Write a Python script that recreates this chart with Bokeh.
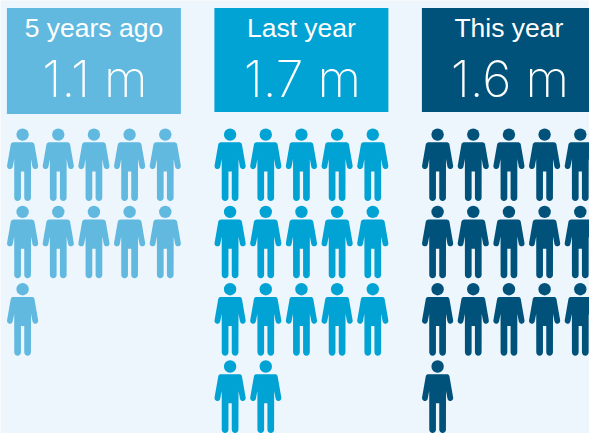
import math
from bokeh.plotting import figure
from bokeh.models import Range1d
from bokeh.core.properties import value
from bokeh.embed import file_html
from bokeh.resources import INLINE

categories = ["5 years ago", "Last year", "This year"]
values_m = [1.1, 1.7, 1.6]
people = [11, 17, 16]
labels = ["1.1 m", "1.7 m", "1.6 m"]
colors = ["#62b9df", "#00a3d3", "#00527a"]
BG = "#edf6fc"

W, H = 589, 433
p = figure(width=W, height=H, output_backend="svg", toolbar_location=None,
           x_range=Range1d(0.6, W + 0.6), y_range=Range1d(H + 0.6, 0.6),
           min_border=0, outline_line_color=None, background_fill_color=BG,
           border_fill_color=BG)
p.axis.visible = False
p.grid.visible = False


def arc(cx, cy, r, a0, a1, n=8):
    return [(cx + r * math.cos(math.radians(a0 + (a1 - a0) * j / n)),
             cy + r * math.sin(math.radians(a0 + (a1 - a0) * j / n))) for j in range(n + 1)]


# right half of the pictogram, relative to the head centre (y grows downward)
half = ([(0, 7.7), (9.2, 7.7)] + arc(9.2, 10.4, 2.7, -90, -12)
        + arc(12.7, 31.6, 2.9, -10, 170)
        + [(8.4, 24.5)] + arc(5.0, 63.1, 3.35, 0, 180) + [(1.65, 36.8), (0, 36.8)])
outline = half + [(-x, y) for x, y in reversed(half[:-1])]

COL_STEP, ROW_STEP, PANEL_STEP = 35.67, 77.3, 207.5
X0, Y0 = 22.7, 134.7
panel_w = 174
panel_bottom = [114, 112, 112]

for k, cat in enumerate(categories):
    left = 7 + k * PANEL_STEP
    mid = left + panel_w / 2
    p.quad(left=[left], right=[left + panel_w], top=[8], bottom=[panel_bottom[k]],
           fill_color=colors[k], line_color=None)
    p.text([mid], [28.5], text=[cat], text_color="white", text_align="center", text_baseline="middle",
           text_font=value("Liberation Sans"), text_font_size="26.5px")
    p.text([mid + 1], [79], text=[labels[k]], text_color="white", text_align="center", text_baseline="middle",
           text_font=value("Inter ExtraLight"), text_font_size="50px")
    hx, hy, xs, ys = [], [], [], []
    for i in range(people[k]):
        cx = X0 + k * PANEL_STEP + (i % 5) * COL_STEP
        cy = Y0 + (i // 5) * ROW_STEP
        hx.append(cx)
        hy.append(cy)
        xs.append([cx + a for a, _ in outline])
        ys.append([cy + b for _, b in outline])
    p.patches(xs, ys, fill_color=colors[k], line_color=None)
    p.scatter(hx, hy, size=12.4, marker="circle", fill_color=colors[k], line_color=None)

open("out.html", "w").write(file_html(p, INLINE))
